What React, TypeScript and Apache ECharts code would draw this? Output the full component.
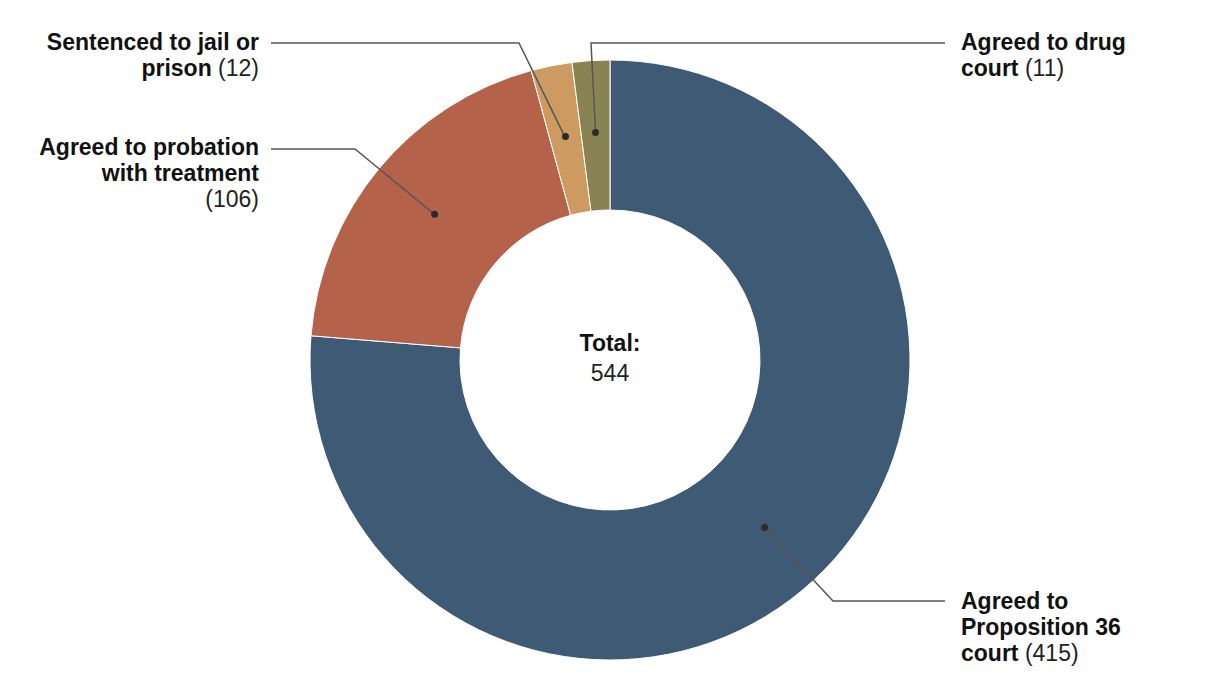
import React, { useEffect, useRef } from "react";
import * as echarts from "echarts";

const categories = [
  "Agreed to Proposition 36 court",
  "Agreed to probation with treatment",
  "Sentenced to jail or prison",
  "Agreed to drug court",
];
const values = [415, 106, 12, 11];
// display lines; a trailing "\n" puts the count on its own line
const labelTemplates = [
  "Agreed to\nProposition 36\ncourt",
  "Agreed to probation\nwith treatment\n",
  "Sentenced to jail or\nprison",
  "Agreed to drug\ncourt",
];
const colors = ["#3e5a74", "#b4634a", "#cd9a62", "#898253"];

const FONT = "'Liberation Sans', Arial, sans-serif";

// label placement (layout only)
const labelPlacement = [
  { x: 961, y: 588, align: "left", bend: [833, 601], end: [945, 601] },
  { x: 259, y: 134, align: "right", bend: [355, 149], end: [271, 149] },
  { x: 259, y: 29, align: "right", bend: [519, 43], end: [271, 43] },
  { x: 961, y: 29, align: "left", bend: [591, 43], end: [945, 43] },
];

const CENTER = [610, 360];

export default function App() {
  const ref = useRef<HTMLDivElement>(null);
  useEffect(() => {
    if (!ref.current) return;
    const chart = echarts.init(ref.current, undefined, { renderer: "svg" });
    const total = values.reduce((a, b) => a + b, 0);
    const data = categories.map((c, i) => ({
      name: c,
      value: values[i],
      itemStyle: { color: colors[i] },
    }));
    const rich = {
      b: { fontFamily: FONT, fontWeight: "bold", fontSize: 23, lineHeight: 26, color: "#111" },
      n: { fontFamily: FONT, fontWeight: "normal", fontSize: 23, lineHeight: 26, color: "#222" },
    };
    chart.setOption({
      animation: false,
      title: {
        text: "Total:",
        subtext: String(total),
        left: "center",
        top: 324,
        itemGap: 3,
        textStyle: { fontFamily: FONT, fontWeight: "bold", fontSize: 23, color: "#111", lineHeight: 27 },
        subtextStyle: { fontFamily: FONT, fontWeight: "normal", fontSize: 23, color: "#222", lineHeight: 27 },
      },
      series: [
        {
          type: "pie",
          center: CENTER,
          radius: [150, 300],
          startAngle: 90,
          clockwise: true,
          silent: true,
          data,
          itemStyle: { borderColor: "#fff", borderWidth: 1 },
          label: { show: false },
          labelLine: { show: false },
          emphasis: { disabled: true },
        },
        {
          type: "pie",
          center: CENTER,
          radius: [0, 225],
          startAngle: 90,
          clockwise: true,
          silent: true,
          z: 3,
          data: data.map((d) => ({ name: d.name, value: d.value })),
          itemStyle: { color: "rgba(0,0,0,0)", borderWidth: 0 },
          avoidLabelOverlap: false,
          label: {
            show: true,
            position: "outside",
            formatter: (p: any) => {
              const tpl = labelTemplates[p.dataIndex];
              const parts = tpl.split("\n");
              const last = parts.pop() as string;
              const lines = parts.map((l) => `{b|${l}}`);
              if (last === "") lines.push(`{n|(${p.value})}`);
              else lines.push(`{b|${last}}{n| (${p.value})}`);
              return lines.join("\n");
            },
            rich,
          },
          labelLine: {
            show: true,
            length: 20,
            length2: 20,
            lineStyle: { color: "#555", width: 1.5 },
          },
          labelLayout: (params: any) => {
            const pl = labelPlacement[params.dataIndex];
            const p0 = params.labelLinePoints ? params.labelLinePoints[0] : pl.bend;
            return {
              x: pl.x,
              y: pl.y,
              align: pl.align,
              verticalAlign: "top",
              labelLinePoints: [p0, pl.bend, pl.end],
            };
          },
          emphasis: { disabled: true },
        },
        {
          type: "pie",
          center: CENTER,
          radius: [223, 227],
          startAngle: 90,
          clockwise: true,
          silent: true,
          z: 4,
          data: data.map((d) => ({ name: d.name, value: d.value })),
          itemStyle: { color: "rgba(0,0,0,0)", borderWidth: 0 },
          label: {
            show: true,
            position: "inside",
            formatter: " ",
            width: 7,
            height: 7,
            padding: 0,
            backgroundColor: "#2b2b2b",
            borderRadius: 4,
          },
          labelLine: { show: false },
          emphasis: { disabled: true },
        },
      ],
    });
    return () => chart.dispose();
  }, []);
  return (
    <div
      ref={ref}
      style={{ position: "absolute", left: 0, top: 0, width: 1220, height: 700, background: "#fff" }}
    />
  );
}
